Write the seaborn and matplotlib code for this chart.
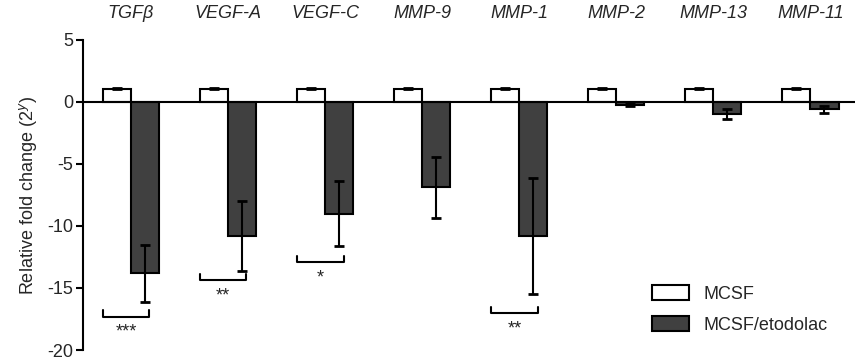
import numpy as np
import pandas as pd
import seaborn as sns
import matplotlib.pyplot as plt

genes = ['TGFβ', 'VEGF-A', 'VEGF-C', 'MMP-9', 'MMP-1', 'MMP-2', 'MMP-13', 'MMP-11']
mcsf = [1.0, 1.0, 1.0, 1.0, 1.0, 1.0, 1.0, 1.0]
mcsf_err = [0.15, 0.15, 0.15, 0.15, 0.15, 0.15, 0.15, 0.15]
etod = [-13.8, -10.8, -9.0, -6.9, -10.8, -0.25, -1.0, -0.6]
etod_err = [2.3, 2.8, 2.6, 2.45, 4.7, 0.12, 0.4, 0.3]

# significance brackets: gene index, bracket y, stars
sig_idx = [0, 1, 2, 4]
sig_y = [-17.3, -14.35, -12.9, -17.0]
sig_txt = ['***', '**', '*', '**']

df = pd.DataFrame({
    'gene': genes * 2,
    'value': mcsf + etod,
    'group': ['MCSF'] * len(genes) + ['MCSF/etodolac'] * len(genes),
})

sns.set_style('white')
plt.rcParams['font.family'] = ['Liberation Sans', 'DejaVu Sans']
plt.rcParams['axes.unicode_minus'] = False

fig = plt.figure(figsize=(8.55, 3.59), dpi=100)
ax = fig.add_axes([0.097, 0.025, 0.903, 0.864])

sns.barplot(data=df, x='gene', y='value', hue='group', order=genes,
            palette={'MCSF': 'white', 'MCSF/etodolac': '#404040'},
            width=0.58, gap=0, errorbar=None, edgecolor='black',
            linewidth=1.5, ax=ax, zorder=2)

# error bars
c0, c1 = ax.containers[0], ax.containers[1]
x0 = [p.get_x() + p.get_width() / 2 for p in c0]
x1 = [p.get_x() + p.get_width() / 2 for p in c1]
ax.errorbar(x0, mcsf, yerr=[np.zeros(len(mcsf)), mcsf_err], fmt='none',
            ecolor='black', elinewidth=1.5, capsize=3.5, capthick=2, zorder=3)
ax.errorbar(x1, etod, yerr=etod_err, fmt='none',
            ecolor='black', elinewidth=1.5, capsize=3.5, capthick=2, zorder=3)

# brackets
for i, y, t in zip(sig_idx, sig_y, sig_txt):
    xl, xr = i - 0.29, i + 0.19
    ax.plot([xl, xl, xr, xr], [y + 0.5, y, y, y + 0.5], color='black', lw=1.5)
    ax.text((xl + xr) / 2, y - 0.6, t, ha='center', va='top', fontsize=13)

ax.axhline(0, color='black', lw=1.5, zorder=4)
ax.set_xlim(-0.495, 7.46)
ax.set_ylim(-20, 5)
ax.set_yticks([5, 0, -5, -10, -15, -20])
ax.tick_params(axis='y', labelsize=13, length=5, width=1.5, color='black', direction='out', left=True, pad=2)
ax.xaxis.tick_top()
ax.tick_params(axis='x', length=0, labelsize=13, pad=13)
for lab in ax.get_xticklabels():
    lab.set_fontstyle('italic')
ax.set_xlabel('')
ax.set_ylabel('Relative fold change (2$^{y}$)', fontsize=13, labelpad=6)
for s in ['top', 'right', 'bottom']:
    ax.spines[s].set_visible(False)
ax.spines['left'].set_linewidth(1.5)
ax.spines['left'].set_color('black')

ax.legend(loc='lower right', bbox_to_anchor=(0.985, 0.0), frameon=False,
          fontsize=13, handlelength=2.0, handleheight=0.9, labelspacing=0.75,
          handletextpad=0.8)

fig.savefig('out.png', dpi=100)
